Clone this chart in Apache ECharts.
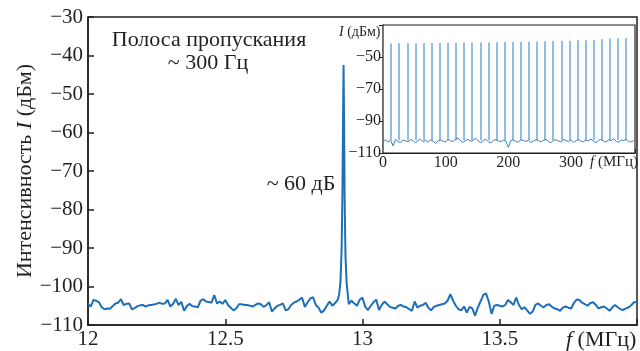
<!DOCTYPE html>
<html><head><meta charset="utf-8">
<script src="https://cdn.jsdelivr.net/npm/echarts@6/dist/echarts.min.js"></script>
<style>html,body{margin:0;padding:0;background:#fff}#c{width:640px;height:351px}</style>
</head><body><div id="c"></div>
<script>
// ---- main spectrum (12–14 MHz) ----
const mainStart = 12.00;
const mainStep = 0.01;
const mainNoise = [
-104.5,-105.2,-103.5,-103.7,-104.1,-105.4,-105.9,-105.7,-105.8,-105.1,
-104.4,-104.2,-103.3,-104.8,-104.5,-104.4,-105.9,-105.6,-105.1,-104.9,
-104.8,-105.2,-104.9,-104.8,-104.7,-104.5,-104.2,-104.5,-104.4,-103.5,
-105.2,-104.5,-103.2,-104.8,-104.0,-106.3,-105.1,-104.5,-105.1,-105.2,
-105.4,-103.7,-103.3,-103.9,-104.0,-104.2,-102.2,-104.4,-103.9,-104.5,
-103.5,-104.8,-105.5,-106.2,-105.7,-104.6,-104.6,-104.8,-104.8,-105.0,
-105.2,-104.8,-104.4,-104.6,-105.3,-104.8,-104.1,-106.5,-105.7,-105.0,
-104.8,-104.4,-106.2,-105.9,-104.8,-104.2,-103.9,-103.4,-102.9,-105.3,
-104.1,-103.1,-102.8,-104.8,-105.5,-106.8,-106.2,-105.0,-103.9,-105.0,
-104.3,-103.4,null,null,null,-104.6,-103.7,-104.4,-105.0,-103.4,
-102.9,-105.3,-106.1,-105.0,-104.1,-103.4,-106.1,-104.8,-103.9,-104.6,
-105.3,-105.5,-105.7,-105.0,-104.8,-105.2,-105.4,-105.9,-106.3,-103.9,
-105.5,-105.0,-104.8,-104.2,-105.5,-106.2,-105.3,-105.0,-104.8,-104.6,
-104.4,-103.7,-102.0,-103.7,-105.0,-105.9,-106.2,-105.2,-106.8,-105.3,
-105.7,-107.6,-105.5,-103.9,-102.2,-101.8,-103.9,-107.1,-105.0,-104.8,
-105.0,-105.2,-104.8,-103.5,-104.1,-104.8,-102.9,-104.8,-105.9,-105.4,
-106.2,-107.1,-106.5,-104.8,-104.4,-105.0,-105.4,-104.8,-104.6,-105.3,
-105.7,-105.9,-106.3,-105.5,-105.2,-105.5,-105.7,-104.3,-103.4,-103.5,
-104.2,-104.6,-105.0,-104.3,-104.1,-104.8,-105.7,-105.4,-105.2,-105.7,
-106.3,-105.4,-104.8,-105.4,-105.9,-106.1,-105.7,-105.4,-104.8,-104.0,
-104.2
];
const peakFreq = [12.915, 12.920, 12.924, 12.927, 12.929, 12.931, 12.933, 12.935, 12.938, 12.942, 12.946];
const peakInt  = [-102.0, -98.5, -90.0, -75.0, -58.0, -42.5, -58.0, -78.0, -92.0, -99.0, -101.8];

const mainYTicks = [-30, -40, -50, -60, -70, -80, -90, -100, -110];
const mainXTickLabels = ['12', '12.5', '13', '13.5'];

// ---- inset: comb (0–400 MHz) ----
const combSpacing = 12.93;
const combTops = [
-41.5,-41.4,-41.3,-41.4,-41.3,-41.2,-41.2,-41.1,-41.2,-41.0,
-41.0,-40.9,-40.9,-40.8,-40.7,-40.7,-40.6,-40.5,-40.3,-40.2,
-40.0,-39.9,-39.8,-39.6,-39.5,-39.3,-38.9,-38.5,-38.3,-38.1
];
const combBase = -102.0;
const insetStart = 0;
const insetStep = 4;
const insetNoise = [
-102.5,-101.8,-103.2,-102.0,-105.5,-101.5,-102.8,-103.5,-101.9,-102.4,
-103.0,-101.6,-102.2,-103.8,-102.0,-101.4,-102.9,-102.1,-103.3,-101.7,
-102.6,-104.0,-102.3,-101.8,-102.7,-103.1,-101.5,-102.4,-102.9,-101.2,
-100.6,-102.5,-103.4,-102.0,-101.6,-102.8,-101.9,-100.8,-102.6,-103.5,
-102.2,-101.5,-102.9,-103.8,-102.1,-101.7,-102.4,-103.0,-101.9,-102.6,
-106.5,-102.3,-101.8,-102.9,-103.2,-101.6,-102.2,-102.8,-101.9,-103.4,
-102.5,-101.7,-102.3,-103.0,-102.1,-101.5,-102.8,-103.6,-102.0,-101.8,
-102.6,-103.1,-101.4,-102.2,-102.9,-101.8,-103.3,-102.4,-101.6,-102.7,
-103.0,-101.9,-102.4,-101.2,-102.8,-103.5,-102.0,-101.6,-102.5,-103.2,
-101.8,-102.3,-101.0,-102.7,-103.4,-101.9,-102.2,-101.5,-102.8,-103.0,
-102.4
];
const insetXTickLabels = ['0', '100', '200', '300'];
const insetYTickLabels = ['−50', '−70', '−90', '−110'];

// ---- build ----
const mainPts = [];
mainNoise.forEach((v, i) => { if (v !== null) mainPts.push([+(mainStart + i * mainStep).toFixed(3), v]); });
peakFreq.forEach((f, i) => mainPts.push([f, peakInt[i]]));
mainPts.sort((a, b) => a[0] - b[0]);

const insetPts = insetNoise.map((v, i) => [insetStart + i * insetStep, v]);
const combLines = combTops.map((t, i) => ({ coords: [[(i + 1) * combSpacing, combBase], [(i + 1) * combSpacing, t]] }));

const FONT = 'Liberation Serif, Times New Roman, serif';
const TXT = '#231f20';
const minus = v => String(v).replace('-', '−');

const chart = echarts.init(document.getElementById('c'), null, { renderer: 'canvas' });
chart.setOption({
  animation: false,
  backgroundColor: '#fff',
  grid: [
    { left: 88, top: 17, width: 555, height: 308, show: true, borderColor: '#231f20', borderWidth: 1.5, backgroundColor: 'transparent' },
    { left: 383, top: 25, width: 252, height: 128, show: true, borderColor: '#231f20', borderWidth: 1.2, backgroundColor: '#fff', z: 5 }
  ],
  xAxis: [
    { type: 'value', gridIndex: 0, min: 12, max: 14, interval: 0.5,
      axisLine: { show: true, lineStyle: { color: TXT, width: 1.5 } },
      axisTick: { show: true, inside: true, length: 6, lineStyle: { color: TXT, width: 1.5 } },
      splitLine: { show: false },
      axisLabel: { color: TXT, fontFamily: FONT, fontSize: 21, margin: 4,
        formatter: v => { const s = String(v); return mainXTickLabels.includes(s) ? s : ''; } } },
    { type: 'value', gridIndex: 1, min: 0, max: 402, interval: 100,
      axisLine: { show: true, lineStyle: { color: TXT, width: 1.2 } },
      axisTick: { show: true, inside: true, length: 4, lineStyle: { color: TXT, width: 1 } },
      splitLine: { show: false },
      axisLabel: { color: TXT, fontFamily: FONT, fontSize: 16, margin: 2,
        formatter: v => { const s = String(v); return insetXTickLabels.includes(s) ? s : ''; } } }
  ],
  yAxis: [
    { type: 'value', gridIndex: 0, min: -110, max: -30, interval: 10,
      axisLine: { show: true, lineStyle: { color: TXT, width: 1.5 } },
      axisTick: { show: true, inside: true, length: 6, lineStyle: { color: TXT, width: 1.5 } },
      splitLine: { show: false },
      axisLabel: { color: TXT, fontFamily: FONT, fontSize: 21, margin: 5,
        formatter: v => mainYTicks.includes(v) ? minus(v) : '' } },
    { type: 'value', gridIndex: 1, min: -110, max: -30, interval: 20,
      axisLine: { show: true, lineStyle: { color: TXT, width: 1.2 } },
      axisTick: { show: true, inside: false, length: 4, lineStyle: { color: TXT, width: 1 } },
      splitLine: { show: false },
      axisLabel: { color: TXT, fontFamily: FONT, fontSize: 16, margin: 2,
        formatter: v => { const s = minus(v); return insetYTickLabels.includes(s) ? s : ''; } } }
  ],
  series: [
    { type: 'line', xAxisIndex: 0, yAxisIndex: 0, data: mainPts, showSymbol: false, symbol: 'none',
      lineStyle: { color: '#1f6fb8', width: 2 }, z: 2 },
    { type: 'lines', coordinateSystem: 'cartesian2d', xAxisIndex: 1, yAxisIndex: 1, data: combLines,
      lineStyle: { color: '#78afe0', width: 1.8, opacity: 0.9 }, z: 6 },
    { type: 'line', xAxisIndex: 1, yAxisIndex: 1, data: insetPts, showSymbol: false, symbol: 'none',
      lineStyle: { color: '#3b7fc2', width: 1 }, z: 7 }
  ],
  graphic: [
    { type: 'text', x: 25, y: 171, rotation: Math.PI / 2, z: 10,
      style: { text: '{a|Интенсивность }{b|I}{a| (дБм)}', align: 'center', verticalAlign: 'middle',
        rich: { a: { fontFamily: FONT, fontSize: 22, fill: TXT }, b: { fontFamily: FONT, fontSize: 22, fontStyle: 'italic', fill: TXT } } } },
    { type: 'text', x: 209, y: 40, z: 10,
      style: { text: 'Полоса пропускания', fontFamily: FONT, fontSize: 22, fill: TXT, align: 'center', verticalAlign: 'middle' } },
    { type: 'text', x: 208, y: 63, z: 10,
      style: { text: '~ 300 Гц', fontFamily: FONT, fontSize: 22, fill: TXT, align: 'center', verticalAlign: 'middle' } },
    { type: 'text', x: 301, y: 184, z: 10,
      style: { text: '~ 60 дБ', fontFamily: FONT, fontSize: 22, fill: TXT, align: 'center', verticalAlign: 'middle' } },
    { type: 'text', x: 566, y: 340, z: 10,
      style: { text: '{b|f}{a| (МГц)}', verticalAlign: 'middle',
        rich: { a: { fontFamily: FONT, fontSize: 22, fill: TXT }, b: { fontFamily: FONT, fontSize: 22, fontStyle: 'italic', fill: TXT } } } },
    { type: 'text', x: 339, y: 32, z: 10,
      style: { text: '{b|I}{a| (дБм)}', verticalAlign: 'middle',
        rich: { a: { fontFamily: FONT, fontSize: 14, fill: TXT }, b: { fontFamily: FONT, fontSize: 14, fontStyle: 'italic', fill: TXT } } } },
    { type: 'text', x: 590, y: 162, z: 10,
      style: { text: '{b|f}{a| (МГц)}', verticalAlign: 'middle',
        rich: { a: { fontFamily: FONT, fontSize: 15, fill: TXT }, b: { fontFamily: FONT, fontSize: 15, fontStyle: 'italic', fill: TXT } } } }
  ]
});
</script></body></html>
